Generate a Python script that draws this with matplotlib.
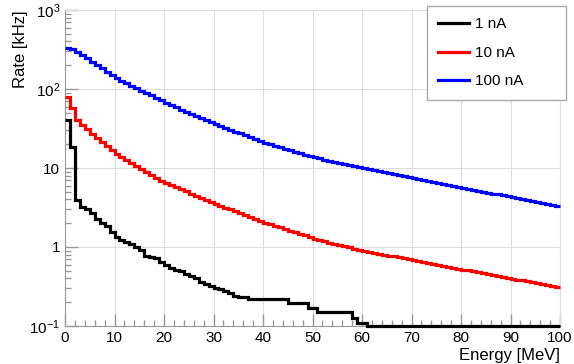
import numpy as np
import matplotlib
matplotlib.use("Agg")
import matplotlib.pyplot as plt
from matplotlib.ticker import LogLocator, FixedLocator, FixedFormatter, MultipleLocator, NullFormatter

plt.rcParams['font.family'] = ['Liberation Sans', 'DejaVu Sans']
plt.rcParams['mathtext.fontset'] = 'custom'
plt.rcParams['mathtext.rm'] = 'Liberation Sans'
plt.rcParams['mathtext.it'] = 'Liberation Sans:italic'

# ---------------------------
# Data : 1 MeV bins from 0 to 100 MeV, rate in kHz
# ---------------------------
energy_edges = np.arange(0, 101, 1)

rate_1nA = [41, 18.6, 3.97, 3.24, 3.0, 2.67, 2.24, 2.03, 1.84, 1.53,
            1.33, 1.23, 1.16, 1.09, 1.01, 0.92, 0.77, 0.74, 0.72, 0.65,
            0.59, 0.54, 0.51, 0.49, 0.46, 0.43, 0.40, 0.36, 0.34, 0.32,
            0.30, 0.29, 0.28, 0.265, 0.24, 0.235, 0.235, 0.218, 0.218, 0.218,
            0.218, 0.218, 0.218, 0.218, 0.218, 0.197, 0.197, 0.197, 0.197, 0.167,
            0.167, 0.152, 0.152, 0.152, 0.152, 0.152, 0.152, 0.152, 0.126, 0.11,
            0.11, 0.1, 0.1, 0.1, 0.1, 0.1, 0.1, 0.1, 0.1, 0.1,
            0.1, 0.1, 0.1, 0.1, 0.1, 0.1, 0.1, 0.1, 0.1, 0.1,
            0.1, 0.1, 0.1, 0.1, 0.1, 0.1, 0.1, 0.1, 0.1, 0.1,
            0.1, 0.1, 0.1, 0.1, 0.1, 0.1, 0.1, 0.1, 0.1, 0.1]

rate_10nA = [80, 57, 40.5, 35, 30.9, 27.3, 24.2, 21.4, 18.9, 16.7,
             15.1, 13.9, 12.7, 11.7, 10.7, 9.82, 9.0, 8.26, 7.57, 6.93,
             6.46, 6.08, 5.71, 5.37, 5.06, 4.75, 4.47, 4.21, 3.95, 3.74,
             3.54, 3.34, 3.16, 2.99, 2.82, 2.67, 2.52, 2.38, 2.25, 2.13,
             2.02, 1.93, 1.85, 1.77, 1.69, 1.61, 1.54, 1.47, 1.41, 1.35,
             1.28, 1.23, 1.19, 1.14, 1.10, 1.06, 1.03, 0.99, 0.953, 0.918,
             0.893, 0.869, 0.845, 0.824, 0.80, 0.78, 0.759, 0.738, 0.719, 0.70,
             0.681, 0.662, 0.644, 0.628, 0.611, 0.594, 0.578, 0.562, 0.548, 0.533,
             0.519, 0.506, 0.492, 0.479, 0.467, 0.454, 0.443, 0.431, 0.419, 0.408,
             0.397, 0.387, 0.377, 0.367, 0.357, 0.348, 0.339, 0.330, 0.321, 0.313]

rate_100nA = [333, 325, 295, 269, 245, 222, 201, 183, 166, 151,
              138, 128, 119, 110, 103, 95.5, 89, 83, 77.6, 72.4,
              67, 62.7, 58.6, 55, 51.5, 48.4, 45.5, 42.9, 40.5, 38.3,
              35.9, 33.9, 32.1, 30.4, 28.8, 27.4, 25.9, 24.6, 23.3, 22.1,
              21.0, 20.0, 19.2, 18.4, 17.6, 16.8, 16.1, 15.4, 14.8, 14.2,
              13.7, 13.2, 12.8, 12.4, 12.0, 11.6, 11.3, 10.9, 10.6, 10.2,
              9.93, 9.64, 9.38, 9.12, 8.85, 8.61, 8.36, 8.13, 7.89, 7.67,
              7.45, 7.24, 7.03, 6.82, 6.62, 6.43, 6.25, 6.07, 5.89, 5.71,
              5.56, 5.41, 5.27, 5.13, 5.00, 4.88, 4.74, 4.62, 4.50, 4.39,
              4.27, 4.15, 4.04, 3.93, 3.82, 3.72, 3.61, 3.52, 3.42, 3.28]

series_labels = ['1 nA', '10 nA', '100 nA']
series_colors = ['black', 'red', 'blue']

y_ticks = [0.1, 1, 10, 100, 1000]
y_tick_labels = [r'$10^{-1}$', '1', '10', r'$10^{2}$', r'$10^{3}$']

# ---------------------------
# Figure
# ---------------------------
fig = plt.figure(figsize=(5.74, 3.64), dpi=100)
ax = fig.add_axes([65 / 574, 38 / 364, 495 / 574, 316 / 364])

for vals, lab, col in zip([rate_1nA, rate_10nA, rate_100nA], series_labels, series_colors):
    ax.stairs(vals, energy_edges, baseline=None, color=col, lw=2.3, label=lab,
              clip_on=False, zorder=3)

ax.set_yscale('log')
ax.set_xlim(0, 100)
ax.set_ylim(0.1, 1000)

ax.xaxis.set_major_locator(MultipleLocator(10))
ax.xaxis.set_minor_locator(MultipleLocator(2))
ax.yaxis.set_major_locator(FixedLocator(y_ticks))
ax.yaxis.set_major_formatter(FixedFormatter(y_tick_labels))
ax.yaxis.set_minor_locator(LogLocator(base=10, subs=np.arange(2, 10)))
ax.yaxis.set_minor_formatter(NullFormatter())

ax.grid(True, which='major', color='#dddddd', lw=0.8)
ax.set_axisbelow(True)

axis_col = '#999999'
for side in ['left', 'bottom']:
    ax.spines[side].set_color(axis_col)
for side in ['top', 'right']:
    ax.spines[side].set_color('#dddddd')
ax.tick_params(which='both', direction='in', colors=axis_col, labelcolor='black',
               labelsize=11, top=False, right=False)
ax.tick_params(which='major', length=9, width=1, pad=3.5)
ax.tick_params(which='minor', length=4.5, width=1)

ax.set_xlabel('Energy [MeV]', fontsize=12, loc='right')
ax.xaxis.set_label_coords(1.0, -0.07)
ax.set_ylabel('Rate [kHz]', fontsize=12, loc='top')
ax.yaxis.set_label_coords(-0.075, 1.0)

# legend box spans x 427..566, y 6..94 px in the figure
leg = ax.legend(loc='upper left', bbox_to_anchor=(427 / 574, 1 - 94 / 364, 139 / 574, 88 / 364),
                bbox_transform=fig.transFigure, mode='expand', fontsize=11, fancybox=False,
                framealpha=1, edgecolor='#aaaaaa', handlelength=2.0,
                handletextpad=0.4, labelspacing=0.95, borderpad=0.75,
                borderaxespad=0)
leg.get_frame().set_linewidth(1)
for line in leg.get_lines():
    line.set_linewidth(2.3)

fig.savefig('out.png', dpi=100)
